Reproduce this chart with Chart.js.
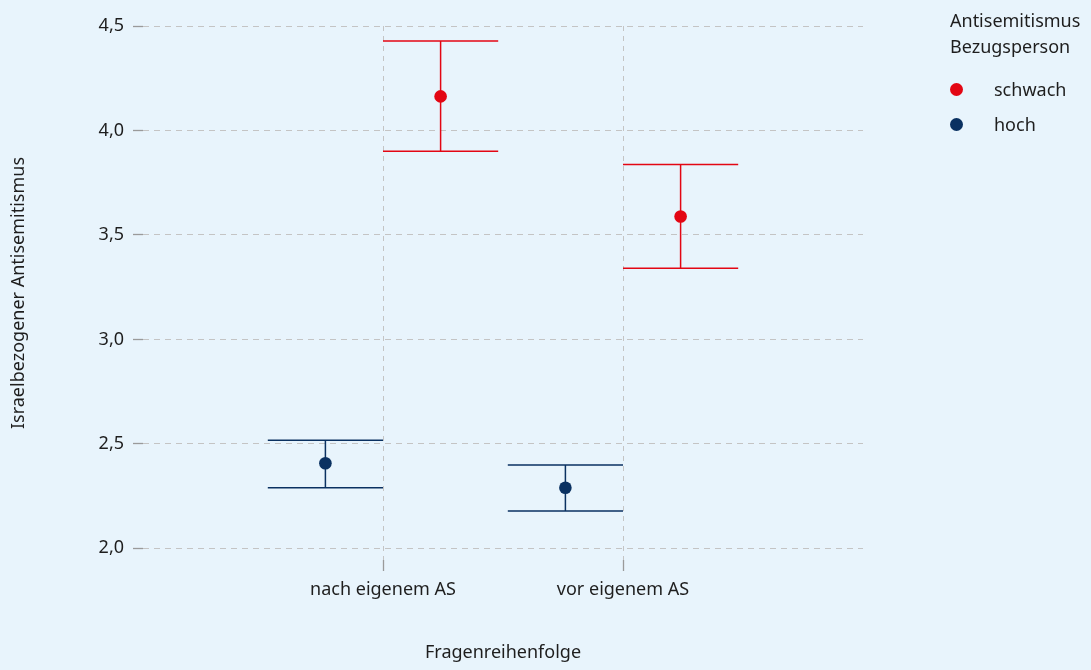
<!DOCTYPE html>
<html lang="de">
<head>
<meta charset="utf-8">
<title>Israelbezogener Antisemitismus</title>
<script src="https://cdn.jsdelivr.net/npm/chart.js@4/dist/chart.umd.min.js"></script>
<style>
  html, body { margin: 0; padding: 0; background: #e8f4fc; }
  body { width: 1091px; height: 670px; position: relative; overflow: hidden; font-family: 'Noto Sans', sans-serif; color: #1e1e1e; }
  #chart { position: absolute; left: 0; top: 0; }
  .legend { position: absolute; left: 950px; top: 7px; font-size: 18px; }
  .legend-title { line-height: 26px; }
  .legend-item { position: relative; height: 35px; line-height: 35px; padding-left: 44px; }
  .legend-item .dot { position: absolute; left: 0; top: 11px; width: 13px; height: 13px; border-radius: 50%; }
  .legend-items { margin-top: 13px; }
</style>
</head>
<body>
<canvas id="chart" width="1091" height="670"></canvas>
<div class="legend" id="legend"></div>

<script>
// ── Data ──
const categories = ['nach eigenem AS', 'vor eigenem AS'];
const legendTitle = ['Antisemitismus', 'Bezugsperson'];

const schwachMean = [4.163, 3.588];
const schwachLow  = [3.900, 3.341];
const schwachHigh = [4.428, 3.837];

const hochMean = [2.407, 2.290];
const hochLow  = [2.290, 2.178];
const hochHigh = [2.517, 2.399];

const yTicks = [2.0, 2.5, 3.0, 3.5, 4.0, 4.5];

// ── Styling ──
const RED = '#e30613';
const NAVY = '#0a3161';
const GRID = '#c4c4c4';
const TICK = '#9a9a9a';
const TEXT = '#1e1e1e';
const DODGE = 0.24;   // horizontal offset of each group
const CAP = 0.24;     // half width of error bar caps

const series = [
  { label: 'schwach', color: RED,  offset: +DODGE, mean: schwachMean, low: schwachLow, high: schwachHigh },
  { label: 'hoch',    color: NAVY, offset: -DODGE, mean: hochMean,    low: hochLow,    high: hochHigh }
];

Chart.defaults.font.family = "'Noto Sans', sans-serif";
Chart.defaults.font.size = 18;
Chart.defaults.color = TEXT;

// ── Error bars drawn below the points ──
const errorBars = {
  id: 'errorBars',
  beforeDatasetsDraw(chart) {
    const { ctx, scales: { x, y } } = chart;
    ctx.save();
    ctx.lineWidth = 1.5;
    series.forEach(s => {
      ctx.strokeStyle = s.color;
      s.mean.forEach((m, i) => {
        const cx = i + 1 + s.offset;
        const px = x.getPixelForValue(cx);
        const l = x.getPixelForValue(cx - CAP);
        const r = x.getPixelForValue(cx + CAP);
        const top = y.getPixelForValue(s.high[i]);
        const bot = y.getPixelForValue(s.low[i]);
        ctx.beginPath();
        ctx.moveTo(px, top); ctx.lineTo(px, bot);
        ctx.moveTo(l, top); ctx.lineTo(r, top);
        ctx.moveTo(l, bot); ctx.lineTo(r, bot);
        ctx.stroke();
      });
    });
    ctx.restore();
  }
};

new Chart(document.getElementById('chart'), {
  type: 'scatter',
  data: {
    datasets: series.map(s => ({
      label: s.label,
      data: s.mean.map((m, i) => ({ x: i + 1 + s.offset, y: m })),
      backgroundColor: s.color,
      borderWidth: 0,
      pointRadius: 6.3,
      pointHoverRadius: 6.3
    }))
  },
  options: {
    responsive: false,
    animation: false,
    layout: { padding: { top: 26, right: 228, left: 0, bottom: 0 } },
    plugins: {
      legend: { display: false },
      tooltip: { enabled: false }
    },
    scales: {
      x: {
        type: 'linear',
        min: 0,
        max: 3,
        afterBuildTicks: axis => { axis.ticks = categories.map((c, i) => ({ value: i + 1 })); },
        afterFit: axis => { axis.height = 110; },
        ticks: {
          padding: 8,
          color: TEXT,
          callback: v => categories[v - 1]
        },
        grid: {
          color: GRID,
          lineWidth: 1,
          tickLength: 11,
          tickColor: TICK,
          tickWidth: 1.3,
          tickBorderDash: []
        },
        border: { display: false, dash: [5, 5] },
        title: {
          display: true,
          text: 'Fragenreihenfolge',
          color: TEXT,
          padding: { top: 0, bottom: 6 }
        }
      },
      y: {
        type: 'linear',
        min: 1.944,
        max: 4.5,
        afterBuildTicks: axis => { axis.ticks = yTicks.map(v => ({ value: v })); },
        afterFit: axis => { axis.width = 143; },
        ticks: {
          padding: 9,
          color: TEXT,
          callback: v => v.toFixed(1).replace('.', ',')
        },
        grid: {
          color: GRID,
          lineWidth: 1,
          tickLength: 10,
          tickColor: TICK,
          tickWidth: 1.3,
          tickBorderDash: []
        },
        border: { display: false, dash: [6, 5] },
        title: {
          display: true,
          text: 'Israelbezogener Antisemitismus',
          color: TEXT,
          padding: { top: 8, bottom: 0 }
        }
      }
    }
  },
  plugins: [errorBars]
});

// ── Legend (HTML) ──
const legendEl = document.getElementById('legend');
legendEl.innerHTML =
  legendTitle.map(t => `<div class="legend-title">${t}</div>`).join('') +
  '<div class="legend-items">' +
  series.map(s => `<div class="legend-item"><span class="dot" style="background:${s.color}"></span>${s.label}</div>`).join('') +
  '</div>';
</script>
</body>
</html>
